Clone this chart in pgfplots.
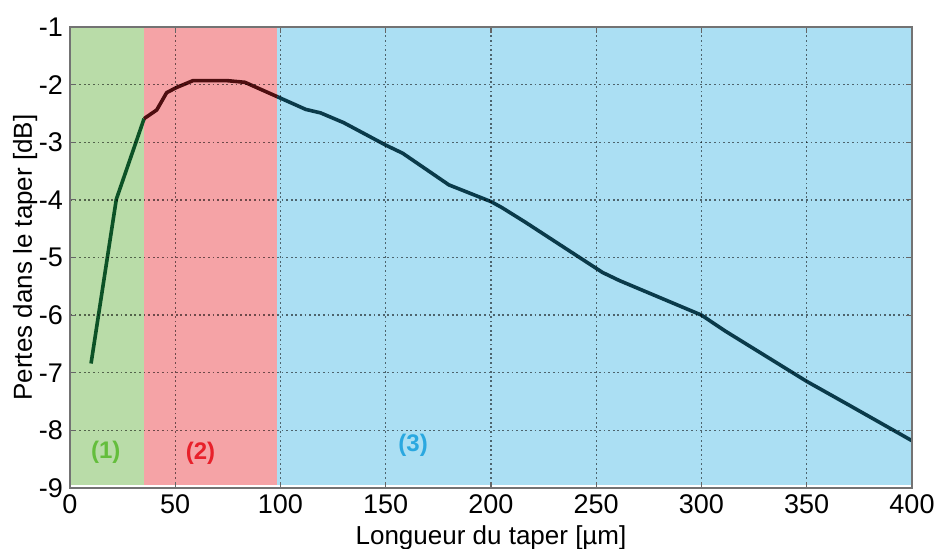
\documentclass[border=0pt]{standalone}
\usepackage{pgfplots}
\pgfplotsset{compat=1.18}
\usetikzlibrary{calc}
\usepackage{fontspec}
\setmainfont{Liberation Sans}
\definecolor{rgreen}{RGB}{185,220,168}
\definecolor{rred}{RGB}{245,163,166}
\definecolor{rblue}{RGB}{171,223,243}
\definecolor{cgreen}{RGB}{12,82,38}
\definecolor{cred}{RGB}{78,14,16}
\definecolor{cblue}{RGB}{10,58,74}
\definecolor{lgreen}{RGB}{100,190,60}
\definecolor{lred}{RGB}{232,32,42}
\definecolor{lblue}{RGB}{42,168,224}
\begin{document}
\begin{tikzpicture}
\begin{axis}[
  name=ax,
  at={(0,0)}, anchor=south west,
  scale only axis,
  width=421pt, height=230.5pt,
  xmin=0, xmax=400, ymin=-9, ymax=-1,
  xtick={0,50,...,400}, ytick={-9,-8,...,-1},
  /pgf/number format/assume math mode=true,
  tick label style={font=\fontsize{13.5}{15}\selectfont},
  label style={font=\fontsize{13}{15}\selectfont},
  xlabel={Longueur du taper [µm]},
  ylabel={Pertes dans le taper [dB]},
  xlabel style={yshift=1pt},
  ylabel style={yshift=-6pt},
  grid=major,
  major grid style={black, opacity=0.55, line width=0.7pt, dash pattern=on 0.9pt off 1.4pt},
  axis line style={black!55, line width=0.7pt},
  major tick style={black!60, line width=0.6pt},
  major tick length=3pt,
  axis on top,
  clip=true,
]
\addplot[draw=none, fill=rgreen] coordinates {(0,-8.95) (35.2,-8.95) (35.2,-1) (0,-1)};
\addplot[draw=none, fill=rred] coordinates {(35.2,-8.95) (98.3,-8.95) (98.3,-1) (35.2,-1)};
\addplot[draw=none, fill=rblue] coordinates {(98.3,-8.95) (400,-8.95) (400,-1) (98.3,-1)};
\addplot[cgreen, line width=1.8pt, line join=round] coordinates {
  (10,-6.84) (22,-3.99) (35.2,-2.59)};
\addplot[cred, line width=1.8pt, line join=round] coordinates {
  (35.2,-2.59) (41.2,-2.44) (45.9,-2.14) (50.6,-2.05) (58.5,-1.93) (74.4,-1.93) (83.1,-1.96) (98.5,-2.21)};
\addplot[cblue, line width=1.8pt, line join=round] coordinates {
  (98.5,-2.21) (112,-2.43) (119,-2.49) (130,-2.66) (150,-3.05) (158,-3.19) (180,-3.74) (200,-4.03) (205,-4.13) (216,-4.38) (253,-5.26) (261,-5.40) (300,-6.00) (311,-6.27) (350,-7.15) (370,-7.56) (400,-8.18)};
\node[font=\fontsize{12}{14}\selectfont\bfseries, text=lgreen] at (axis cs:17,-8.38) {(1)};
\node[font=\fontsize{12}{14}\selectfont\bfseries, text=lred] at (axis cs:62,-8.4) {(2)};
\node[font=\fontsize{12}{14}\selectfont\bfseries, text=lblue] at (axis cs:163,-8.26) {(3)};
\end{axis}
\pgfresetboundingbox
\path[use as bounding box] ($(ax.south west)+(-35pt,-30.5pt)$) rectangle ($(ax.south west)+(433.5pt,244pt)$);
\end{tikzpicture}
\end{document}
